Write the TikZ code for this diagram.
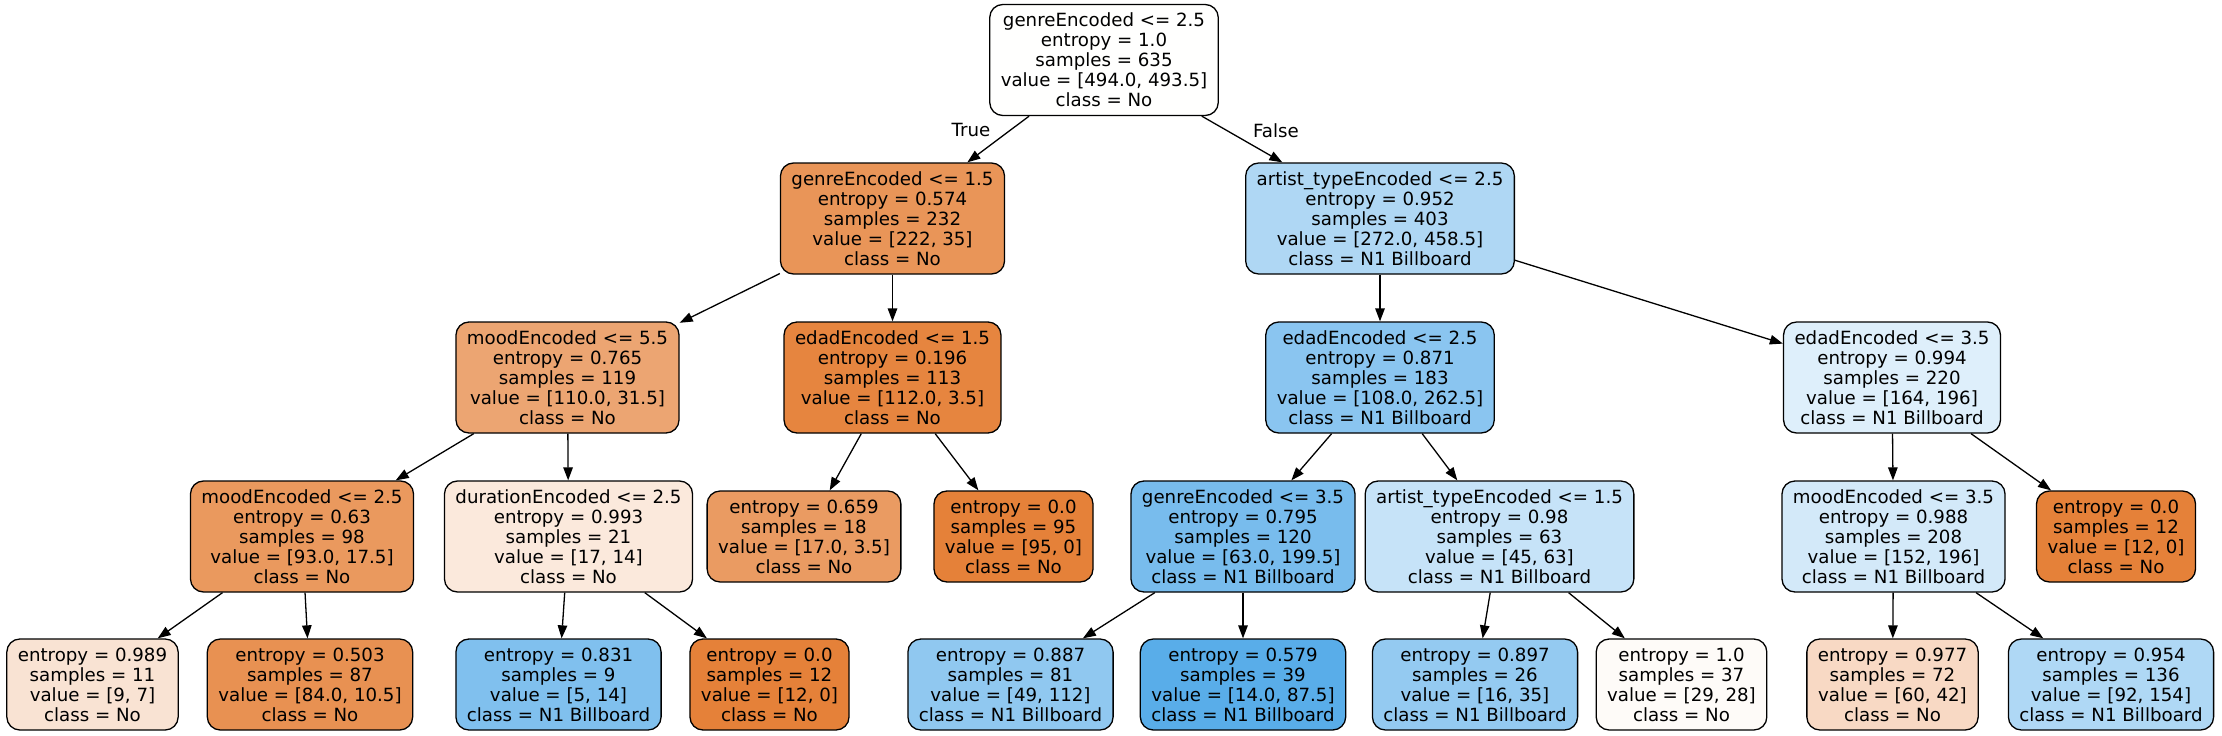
\documentclass[tikz,border=0pt]{standalone}
\usepackage{fontspec}
\setmainfont{DejaVu Sans}
\usetikzlibrary{arrows.meta}
\definecolor{cRoot}{RGB}{255,255,254}
\definecolor{cGa}{RGB}{233,149,88}
\definecolor{cAa}{RGB}{175,215,244}
\definecolor{cMa}{RGB}{236,165,114}
\definecolor{cEa}{RGB}{230,133,63}
\definecolor{cEb}{RGB}{138,197,240}
\definecolor{cEc}{RGB}{222,239,251}
\definecolor{cMb}{RGB}{234,153,94}
\definecolor{cDa}{RGB}{251,233,220}
\definecolor{cLa}{RGB}{234,155,98}
\definecolor{cPure}{RGB}{229,129,57}
\definecolor{cGb}{RGB}{120,188,237}
\definecolor{cAb}{RGB}{198,227,248}
\definecolor{cMc}{RGB}{211,233,249}
\definecolor{cLb}{RGB}{249,227,211}
\definecolor{cLc}{RGB}{232,145,82}
\definecolor{cLd}{RGB}{128,192,238}
\definecolor{cLe}{RGB}{144,200,240}
\definecolor{cLf}{RGB}{89,173,233}
\definecolor{cLg}{RGB}{148,202,241}
\definecolor{cLh}{RGB}{254,251,248}
\definecolor{cLi}{RGB}{248,217,196}
\definecolor{cLj}{RGB}{175,216,245}
\begin{document}
\begin{tikzpicture}[x=1pt,y=-1pt,
  tnode/.style={draw=black, line width=1.3pt, rounded corners=13pt, inner xsep=11pt, inner ysep=0pt,
    align=center, font=\fontsize{18.2}{20}\selectfont},
  inner/.style={tnode, minimum height=111pt},
  leaf/.style={tnode, minimum height=91pt},
  edge/.style={line width=1.3pt, -{Triangle[length=13pt,width=9.5pt]}},
  elabel/.style={font=\fontsize{18.2}{20}\selectfont, inner sep=0pt}]
\useasboundingbox (0,0) rectangle (2222,736);
% level 0
\node[inner, fill=cRoot] (root) at (1104,60) {genreEncoded <= 2.5\\entropy = 1.0\\samples = 635\\value = [494.0, 493.5]\\class = No};
% level 1
\node[inner, fill=cGa] (g15) at (892.5,218.5) {genreEncoded <= 1.5\\entropy = 0.574\\samples = 232\\value = [222, 35]\\class = No};
\node[inner, fill=cAa] (a25) at (1380,218.5) {artist\_typeEncoded <= 2.5\\entropy = 0.952\\samples = 403\\value = [272.0, 458.5]\\class = N1 Billboard};
% level 2
\node[inner, fill=cMa] (m55) at (567.5,377.5) {moodEncoded <= 5.5\\entropy = 0.765\\samples = 119\\value = [110.0, 31.5]\\class = No};
\node[inner, fill=cEa] (e15) at (892.5,377.5) {edadEncoded <= 1.5\\entropy = 0.196\\samples = 113\\value = [112.0, 3.5]\\class = No};
\node[inner, fill=cEb] (e25) at (1380,377.5) {edadEncoded <= 2.5\\entropy = 0.871\\samples = 183\\value = [108.0, 262.5]\\class = N1 Billboard};
\node[inner, fill=cEc] (e35) at (1892,377.5) {edadEncoded <= 3.5\\entropy = 0.994\\samples = 220\\value = [164, 196]\\class = N1 Billboard};
% level 3
\node[inner, fill=cMb] (m25) at (302,536.5) {moodEncoded <= 2.5\\entropy = 0.63\\samples = 98\\value = [93.0, 17.5]\\class = No};
\node[inner, fill=cDa] (d25) at (568.5,536.5) {durationEncoded <= 2.5\\entropy = 0.993\\samples = 21\\value = [17, 14]\\class = No};
\node[leaf, fill=cLa] (l0659) at (804,536.5) {entropy = 0.659\\samples = 18\\value = [17.0, 3.5]\\class = No};
\node[leaf, fill=cPure] (l00b) at (1013.5,536.5) {entropy = 0.0\\samples = 95\\value = [95, 0]\\class = No};
\node[inner, fill=cGb] (g35) at (1243,536.5) {genreEncoded <= 3.5\\entropy = 0.795\\samples = 120\\value = [63.0, 199.5]\\class = N1 Billboard};
\node[inner, fill=cAb] (a15) at (1499.5,536.5) {artist\_typeEncoded <= 1.5\\entropy = 0.98\\samples = 63\\value = [45, 63]\\class = N1 Billboard};
\node[inner, fill=cMc] (m35) at (1893.5,536.5) {moodEncoded <= 3.5\\entropy = 0.988\\samples = 208\\value = [152, 196]\\class = N1 Billboard};
\node[leaf, fill=cPure] (l00c) at (2116,536.5) {entropy = 0.0\\samples = 12\\value = [12, 0]\\class = No};
% level 4
\node[leaf, fill=cLb] (l0989) at (92.5,684.5) {entropy = 0.989\\samples = 11\\value = [9, 7]\\class = No};
\node[leaf, fill=cLc] (l0503) at (310,684.5) {entropy = 0.503\\samples = 87\\value = [84.0, 10.5]\\class = No};
\node[leaf, fill=cLd] (l0831) at (558.5,684.5) {entropy = 0.831\\samples = 9\\value = [5, 14]\\class = N1 Billboard};
\node[leaf, fill=cPure] (l00a) at (769.5,684.5) {entropy = 0.0\\samples = 12\\value = [12, 0]\\class = No};
\node[leaf, fill=cLe] (l0887) at (1010.5,684.5) {entropy = 0.887\\samples = 81\\value = [49, 112]\\class = N1 Billboard};
\node[leaf, fill=cLf] (l0579) at (1243,684.5) {entropy = 0.579\\samples = 39\\value = [14.0, 87.5]\\class = N1 Billboard};
\node[leaf, fill=cLg] (l0897) at (1475,684.5) {entropy = 0.897\\samples = 26\\value = [16, 35]\\class = N1 Billboard};
\node[leaf, fill=cLh] (l10) at (1681.5,684.5) {entropy = 1.0\\samples = 37\\value = [29, 28]\\class = No};
\node[leaf, fill=cLi] (l0977) at (1892.5,684.5) {entropy = 0.977\\samples = 72\\value = [60, 42]\\class = No};
\node[leaf, fill=cLj] (l0954) at (2111,684.5) {entropy = 0.954\\samples = 136\\value = [92, 154]\\class = N1 Billboard};
% edge labels
\node[elabel] (ltrue) at (971,130) {True};
\node[elabel] (lfalse) at (1276,131) {False};
% edges
\draw[edge] (root) -- (g15);
\draw[edge] (root) -- (a25);
\draw[edge] (g15) -- (m55);
\draw[edge] (g15) -- (e15);
\draw[edge] (m55) -- (m25);
\draw[edge] (m55) -- (d25);
\draw[edge] (m25) -- (l0989);
\draw[edge] (m25) -- (l0503);
\draw[edge] (d25) -- (l0831);
\draw[edge] (d25) -- (l00a);
\draw[edge] (e15) -- (l0659);
\draw[edge] (e15) -- (l00b);
\draw[edge] (a25) -- (e25);
\draw[edge] (a25) -- (e35);
\draw[edge] (e25) -- (g35);
\draw[edge] (e25) -- (a15);
\draw[edge] (g35) -- (l0887);
\draw[edge] (g35) -- (l0579);
\draw[edge] (a15) -- (l0897);
\draw[edge] (a15) -- (l10);
\draw[edge] (e35) -- (m35);
\draw[edge] (e35) -- (l00c);
\draw[edge] (m35) -- (l0977);
\draw[edge] (m35) -- (l0954);
\end{tikzpicture}
\end{document}
